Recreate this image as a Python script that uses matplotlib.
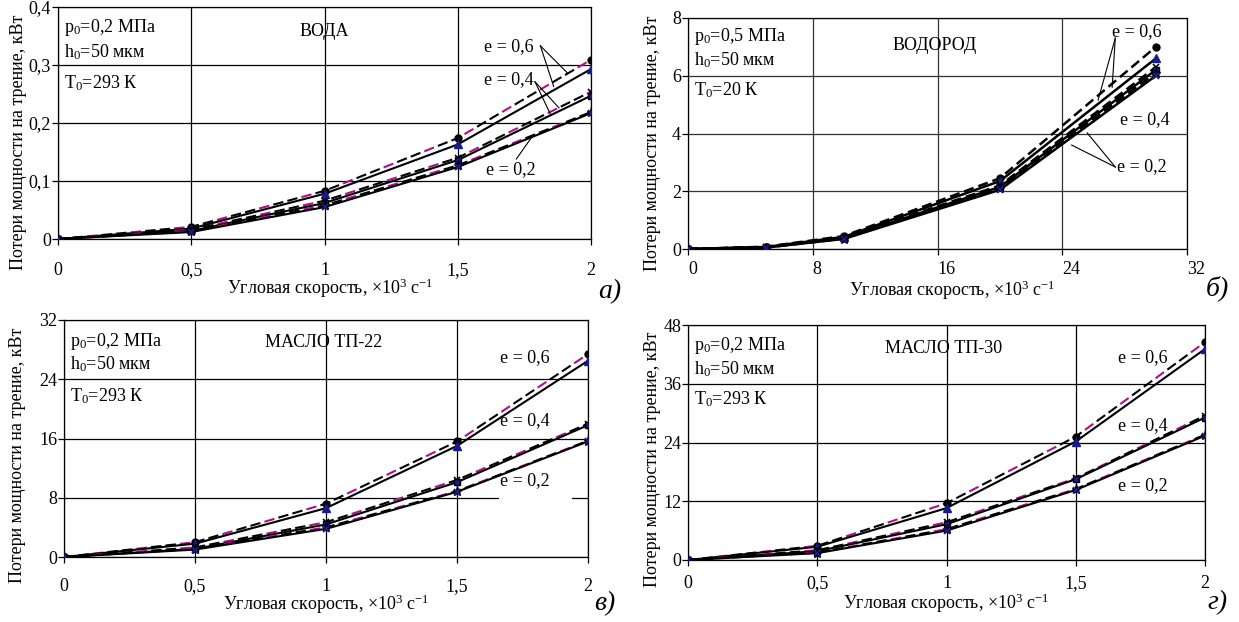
import matplotlib
matplotlib.use("Agg")
import matplotlib.pyplot as plt
from matplotlib.ticker import FuncFormatter, MultipleLocator
from matplotlib.patches import Rectangle

plt.rcParams['font.family'] = ['Liberation Serif', 'DejaVu Serif']
plt.rcParams['mathtext.fontset'] = 'custom'
plt.rcParams['mathtext.rm'] = 'Liberation Serif'
plt.rcParams['mathtext.it'] = 'Liberation Serif:italic'

W, H = 1239, 622

# угловая скорость, x10^3 1/c
omega = [0, 0.5, 1, 1.5, 2]
omega_h2 = [0, 5, 10, 20, 30]

# вода, кВт
water_06_dash = [0, 0.021, 0.083, 0.174, 0.309]
water_06_solid = [0, 0.018, 0.078, 0.163, 0.293]
water_04_dash = [0, 0.016, 0.066, 0.140, 0.254]
water_04_solid = [0, 0.014, 0.062, 0.136, 0.247]
water_02_dash = [0, 0.013, 0.058, 0.127, 0.219]
water_02_solid = [0, 0.012, 0.055, 0.124, 0.217]

# водород, кВт
h2_06_dash = [0, 0.08, 0.45, 2.45, 7.0]
h2_06_solid = [0, 0.07, 0.42, 2.35, 6.6]
h2_04_dash = [0, 0.06, 0.40, 2.20, 6.3]
h2_04_solid = [0, 0.06, 0.38, 2.15, 6.2]
h2_02_dash = [0, 0.05, 0.36, 2.10, 6.1]
h2_02_solid = [0, 0.05, 0.35, 2.05, 6.0]

# масло ТП-22, кВт
tp22_06_dash = [0, 2.0, 7.2, 15.6, 27.4]
tp22_06_solid = [0, 1.8, 6.6, 15.0, 26.5]
tp22_04_dash = [0, 1.3, 4.7, 10.4, 18.0]
tp22_04_solid = [0, 1.1, 4.4, 10.1, 17.8]
tp22_02_dash = [0, 1.1, 4.0, 8.9, 15.7]
tp22_02_solid = [0, 1.0, 3.8, 8.8, 15.6]

# масло ТП-30, кВт
tp30_06_dash = [0, 2.9, 11.6, 25.2, 44.5]
tp30_06_solid = [0, 2.7, 10.6, 24.2, 43.1]
tp30_04_dash = [0, 2.0, 7.7, 16.7, 29.5]
tp30_04_solid = [0, 1.8, 7.3, 16.5, 29.1]
tp30_02_dash = [0, 1.5, 6.3, 14.5, 25.6]
tp30_02_solid = [0, 1.4, 6.0, 14.3, 25.4]

e_labels = ['e = 0,6', 'e = 0,4', 'e = 0,2']
xlabel = 'Угловая скорость, $\\times$10$^{3}$ с$^{-1}$'
ylabel = 'Потери мощности на трение, кВт'

NAVY = '#1a1a8c'
FS = 13


def px_axes(l, t, r, b):
    return [l / W, 1 - b / H, (r - l) / W, (b - t) / H]


def fig_text(x, y, s, **kw):
    fig.text(x / W, 1 - y / H, s, **kw)


def comma(v, pos):
    return ('%g' % v).replace('.', ',')


def draw_panel(ax, x, curves, xmax, xstep, ymax, ystep, lw=1.5, magenta=True, gridc='black'):
    ax.set_axisbelow(True)
    ax.grid(True, color=gridc, lw=0.9)
    styles = [
        dict(marker='o', color='black', mfc='black', mec='black', ms=5),
        dict(marker='^', color='black', mfc=NAVY, mec=NAVY, ms=5.5),
        dict(marker='x', color='black', mfc='black', mec='black', ms=5, mew=1.2),
        dict(marker='s', color='black', mfc=NAVY, mec='black', ms=4.5),
        dict(marker='*', color='black', mfc=NAVY, mec='black', ms=6.5),
        dict(marker='x', color='black', mfc='black', mec=NAVY, ms=5, mew=1.2),
    ]
    for i, y in enumerate(curves):
        st = styles[i]
        if i % 2 == 0:
            if magenta:
                ax.plot(x, y, color='black', lw=lw, linestyle=(0, (5, 2, 5, 9)), zorder=3)
                ax.plot(x, y, color='#b0108c', lw=lw, linestyle=(7, (5, 16)), zorder=3)
            else:
                ax.plot(x, y, color='black', lw=lw, linestyle=(0, (4, 2)), zorder=3)
        else:
            ax.plot(x, y, color='black', lw=lw, zorder=3)
        ax.plot(x, y, linestyle='none', zorder=4, **st)
    ax.set_xlim(0, xmax)
    ax.set_ylim(0, ymax)
    ax.xaxis.set_major_locator(MultipleLocator(xstep))
    ax.yaxis.set_major_locator(MultipleLocator(ystep))
    ax.xaxis.set_major_formatter(FuncFormatter(comma))
    ax.yaxis.set_major_formatter(FuncFormatter(comma))
    ax.tick_params(axis='both', direction='out', length=4, width=0.9, labelsize=FS)
    ax.tick_params(axis='y', pad=1)
    for sp in ax.spines.values():
        sp.set_linewidth(0.9)
        sp.set_color('black')


def info(ax, p0, t0, ys):
    ax.text(0.012, ys[0], 'p$_{0}$=%s МПа' % p0, transform=ax.transAxes, fontsize=FS, va='center')
    ax.text(0.012, ys[1], 'h$_{0}$=50 мкм', transform=ax.transAxes, fontsize=FS, va='center')
    ax.text(0.012, ys[2], 'T$_{0}$=%s К' % t0, transform=ax.transAxes, fontsize=FS, va='center')


fig = plt.figure(figsize=(W / 100, H / 100), dpi=100)

# а) вода
ax1 = fig.add_axes(px_axes(58, 7, 591, 239))
draw_panel(ax1, omega, [water_06_dash, water_06_solid, water_04_dash, water_04_solid,
                        water_02_dash, water_02_solid], 2, 0.5, 0.4, 0.1)
ax1.tick_params(axis='x', pad=12.5)
info(ax1, '0,2', '293', [0.91, 0.806, 0.672])
ax1.text(1.0, 0.357, 'ВОДА', fontsize=FS, ha='center', va='center')
ax1.text(1.69, 0.331, e_labels[0], fontsize=FS, ha='center', va='center')
ax1.text(1.69, 0.274, e_labels[1], fontsize=FS, ha='center', va='center')
ax1.text(1.70, 0.119, e_labels[2], fontsize=FS, ha='center', va='center')
for (x0, y0), (x1, y1) in [((1.81, 0.333), (1.91, 0.287)), ((1.81, 0.333), (1.86, 0.263)),
                           ((1.79, 0.271), (1.88, 0.226)), ((1.79, 0.271), (1.85, 0.213)),
                           ((1.72, 0.138), (1.78, 0.177))]:
    ax1.plot([x0, x1], [y0, y1], color='black', lw=0.8, zorder=5)

# б) водород
ax2 = fig.add_axes(px_axes(688, 18, 1187, 249))
draw_panel(ax2, omega_h2, [h2_06_dash, h2_06_solid, h2_04_dash, h2_04_solid,
                           h2_02_dash, h2_02_solid], 32, 8, 8, 2, lw=1.8, magenta=False, gridc='#333333')
ax2.tick_params(axis='x', pad=5)
for lab in ax2.get_xticklabels():
    lab.set_horizontalalignment('left')
info(ax2, '0,5', '20', [0.918, 0.818, 0.688])
ax2.text(15.8, 7.06, 'ВОДОРОД', fontsize=FS, ha='center', va='center')
ax2.text(28.8, 7.52, e_labels[0], fontsize=FS, ha='center', va='center')
ax2.text(29.3, 4.47, e_labels[1], fontsize=FS, ha='center', va='center')
ax2.text(29.1, 2.84, e_labels[2], fontsize=FS, ha='center', va='center')
for (x0, y0), (x1, y1) in [((27.4, 7.30), (26.3, 5.16)), ((27.4, 7.30), (27.2, 5.60)),
                           ((27.4, 2.84), (25.6, 4.02)), ((27.4, 2.84), (24.6, 3.60))]:
    ax2.plot([x0, x1], [y0, y1], color='black', lw=0.8, zorder=5)

# в) масло ТП-22
ax3 = fig.add_axes(px_axes(64, 320, 588, 557))
draw_panel(ax3, omega, [tp22_06_dash, tp22_06_solid, tp22_04_dash, tp22_04_solid,
                        tp22_02_dash, tp22_02_solid], 2, 0.5, 32, 8)
ax3.tick_params(axis='x', pad=11)
info(ax3, '0,2', '293', [0.911, 0.814, 0.679])
ax3.text(0.99, 28.9, 'МАСЛО ТП-22', fontsize=FS, ha='center', va='center')
ax3.text(1.76, 26.9, e_labels[0], fontsize=FS, ha='center', va='center')
ax3.text(1.76, 18.4, e_labels[1], fontsize=FS, ha='center', va='center')
ax3.text(1.76, 10.3, e_labels[2], fontsize=FS, ha='center', va='center')
ax3.add_patch(Rectangle((1.66, 7.5), 0.28, 1.0, facecolor='white', edgecolor='none', zorder=1))

# г) масло ТП-30
ax4 = fig.add_axes(px_axes(688, 325, 1205, 560))
draw_panel(ax4, omega, [tp30_06_dash, tp30_06_solid, tp30_04_dash, tp30_04_solid,
                        tp30_02_dash, tp30_02_solid], 2, 0.5, 48, 12)
ax4.tick_params(axis='x', pad=7)
info(ax4, '0,2', '293', [0.911, 0.813, 0.685])
ax4.text(0.99, 43.3, 'МАСЛО ТП-30', fontsize=FS, ha='center', va='center')
ax4.text(1.76, 41.3, e_labels[0], fontsize=FS, ha='center', va='center')
ax4.text(1.76, 27.4, e_labels[1], fontsize=FS, ha='center', va='center')
ax4.text(1.76, 15.1, e_labels[2], fontsize=FS, ha='center', va='center')

# подписи осей и панелей (x-подпись по базовой линии)
for (xl, yl), (yx, yy) in [((330, 294), (19, 142)), ((952, 296), (653, 143)),
                           ((326, 610), (18, 455)), ((946, 609), (652, 459))]:
    fig_text(xl, yl, xlabel, fontsize=FS, ha='center', va='baseline')
    fig_text(yx, yy, ylabel, fontsize=FS, ha='center', va='center', rotation=90)

for (x, y), s in zip([(610, 292), (1217, 288), (605, 604), (1218, 603)], ['а)', 'б)', 'в)', 'г)']):
    fig_text(x, y, s, fontsize=20, style='italic', ha='center', va='center')

fig.savefig('out.png', dpi=100, facecolor='white')
